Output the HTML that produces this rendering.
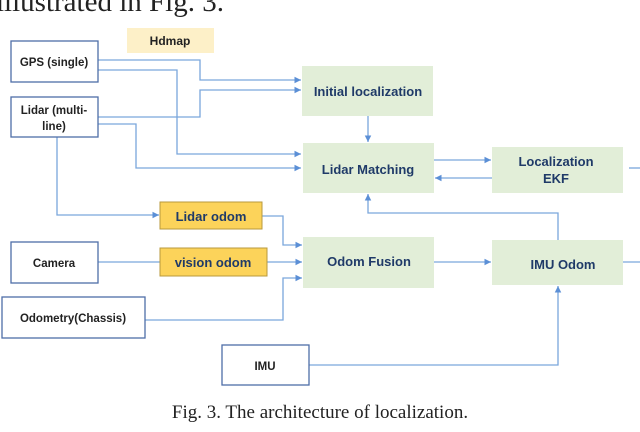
<!DOCTYPE html>
<html><head><style>html,body{margin:0;padding:0;background:#fff;overflow:hidden}</style></head><body>
<svg width="640" height="427" viewBox="0 0 640 427" xmlns="http://www.w3.org/2000/svg" font-family="Liberation Sans, sans-serif" font-weight="bold">
<defs><marker id="a" markerWidth="6" markerHeight="6" refX="5" refY="3" orient="auto"><path d="M0,0.5 L5,3 L0,5.5z" fill="#5b8fd6"/></marker></defs>
<text x="-4" y="11" font-family="Liberation Serif, serif" font-weight="normal" font-size="29" fill="#222">illustrated in Fig. 3.</text>
<g stroke="#7aa6dc" stroke-width="1.3" fill="none" marker-end="url(#a)">
<path d="M98,60 H200 V80 H301"/>
<path d="M98,70 H177 V154 H301"/>
<path d="M98,117 H200 V90 H301"/>
<path d="M98,124 H136 V168 H301"/>
<path d="M57,137 V215 H159"/>
<path d="M262,216 H283 V245 H302"/>
<path d="M267,262 H302"/>
<path d="M145,320 H283 V278 H302"/>
<path d="M368,116 V142"/>
<path d="M434,160 H491"/>
<path d="M492,178 H435"/>
<path d="M558,240 V213 H368 V194"/>
<path d="M434,262 H491"/>
<path d="M309,365 H558 V286"/>
</g>
<g stroke="#7aa6dc" stroke-width="1.3"><path d="M98,262 H160"/><path d="M629,168 H640"/><path d="M623,262 H640"/></g>
<rect x="127" y="28" width="87" height="25" fill="#fdf0c8"/>
<text x="170" y="45" text-anchor="middle" font-size="12" fill="#222">Hdmap</text>
<g fill="#fff" stroke="#4f6ea8" stroke-width="1.3">
<rect x="11" y="41" width="87" height="41"/><rect x="11" y="97" width="87" height="40"/>
<rect x="11" y="242" width="87" height="41"/><rect x="2" y="297" width="143" height="41"/>
<rect x="222" y="345" width="87" height="40"/></g>
<g font-size="11.5" fill="#222" text-anchor="middle">
<text x="54" y="66">GPS (single)</text><text x="54" y="114">Lidar (multi-</text><text x="54" y="130">line)</text>
<text x="54" y="267">Camera</text><text x="73" y="322">Odometry(Chassis)</text><text x="265" y="370">IMU</text></g>
<g fill="#fcd35a" stroke="#b89a3c" stroke-width="1"><rect x="160" y="202" width="102" height="27"/><rect x="160" y="248" width="107" height="28"/></g>
<g fill="#e2eed8"><rect x="302" y="66" width="131" height="50"/><rect x="303" y="143" width="131" height="50"/><rect x="492" y="147" width="131" height="46"/><rect x="303" y="237" width="131" height="51"/><rect x="492" y="240" width="131" height="45"/></g>
<g font-size="13" fill="#1f3a68" text-anchor="middle">
<text x="211" y="221">Lidar odom</text><text x="213" y="267">vision odom</text>
<text x="368" y="96">Initial localization</text><text x="368" y="174">Lidar Matching</text>
<text x="556" y="166">Localization</text><text x="556" y="183">EKF</text>
<text x="369" y="266">Odom Fusion</text><text x="563" y="269">IMU Odom</text></g>
<text x="320" y="418" text-anchor="middle" font-family="Liberation Serif, serif" font-weight="normal" font-size="19" fill="#222">Fig. 3. The architecture of localization.</text>
</svg>
</body></html>
